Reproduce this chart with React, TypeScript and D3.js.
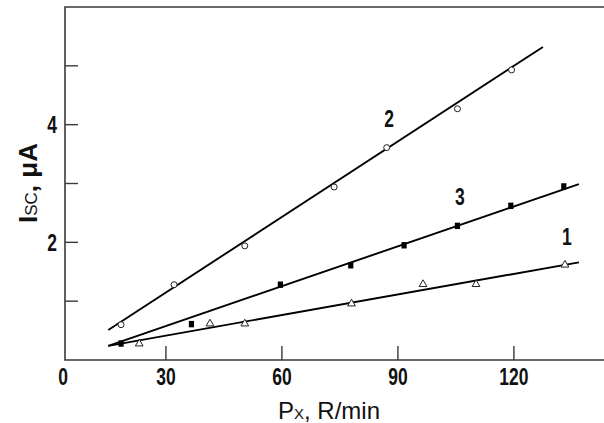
import React from "react";
import * as d3 from "d3";

// Data
const xTicks = [30, 60, 90, 120];
const xTickLabels = ["30", "60", "90", "120"];
const yTicks = [1, 2, 3, 4, 5];
const yTickLabels = ["", "2", "", "4", ""];

const series1X = [23.1, 41.4, 50.4, 78.0, 96.5, 110.2, 133.2];
const series1Y = [0.26, 0.6, 0.6, 0.94, 1.27, 1.27, 1.6];
const series2X = [18.4, 32.1, 50.4, 73.5, 87.1, 105.4, 119.4];
const series2Y = [0.6, 1.28, 1.94, 2.94, 3.61, 4.27, 4.93];
const series3X = [18.4, 36.6, 59.6, 77.8, 91.6, 105.4, 119.2, 132.9];
const series3Y = [0.28, 0.61, 1.28, 1.61, 1.95, 2.28, 2.62, 2.95];

const fit1X = [15.1, 136.8];
const fit1Y = [0.24, 1.66];
const fit2X = [15.1, 127.5];
const fit2Y = [0.51, 5.32];
const fit3X = [15.1, 136.8];
const fit3Y = [0.24, 2.99];

const curveLabels = ["2", "3", "1"];
const curveLabelX = [87.7, 106.0, 133.7];
const curveLabelY = [4.1, 2.78, 2.1];

const W = 604;
const H = 423;
const left = 65;
const top = 7;
const bottom = 360;

const boldFont = "'Liberation Sans', Arial, sans-serif";

function NarrowText(props: { x: number; y: number; anchor: string; children: string; dy?: string }) {
  return (
    <text
      transform={`translate(${props.x},${props.y}) scale(0.76,1)`}
      dy={props.dy}
      textAnchor={props.anchor}
      fontFamily={boldFont}
      fontWeight="bold"
      fontSize={23}
      fill="#111"
    >
      {props.children}
    </text>
  );
}

export default function App() {
  const x = d3.scaleLinear().domain([3.9, 143.3]).range([left, W]);
  const y = d3.scaleLinear().domain([0, 6]).range([bottom, top]);
  const line = d3
    .line<[number, number]>()
    .x((d) => x(d[0]))
    .y((d) => y(d[1]));

  const zip = (a: number[], b: number[]) => a.map((v, i) => [v, b[i]] as [number, number]);

  const axisColor = "#3a3a3a";
  const tri = d3.symbol().type(d3.symbolTriangle).size(26)();

  return (
    <svg
      width={W}
      height={H}
      style={{ position: "absolute", left: 0, top: 0, background: "#fff" }}
    >
      {/* frame */}
      <path
        d={`M${W},${top}H${left}V${bottom}H${W}`}
        fill="none"
        stroke={axisColor}
        strokeWidth={1.6}
      />
      {/* y ticks */}
      {yTicks.map((t, i) => (
        <g key={"yt" + t}>
          <line x1={left} x2={left + 13} y1={y(t)} y2={y(t)} stroke={axisColor} strokeWidth={1.4} />
          {yTickLabels[i] && (
            <NarrowText x={57} y={y(t)} dy="0.36em" anchor="end">
              {yTickLabels[i]}
            </NarrowText>
          )}
        </g>
      ))}
      {/* x ticks */}
      {xTicks.map((t, i) => (
        <g key={"xt" + t}>
          <line x1={x(t)} x2={x(t)} y1={bottom} y2={bottom - 14} stroke={axisColor} strokeWidth={1.4} />
          <NarrowText x={x(t)} y={385} anchor="middle">
            {xTickLabels[i]}
          </NarrowText>
        </g>
      ))}
      <NarrowText x={63} y={385} anchor="middle">
        0
      </NarrowText>

      {/* axis titles */}
      <text
        x={329}
        y={419}
        textAnchor="middle"
        fontFamily={boldFont}
        fontSize={24}
        fill="#111"
      >
        P
        <tspan fontSize={15}>X</tspan>
        <tspan>, R/min</tspan>
      </text>
      <text
        transform={`translate(37,183) rotate(-90)`}
        textAnchor="middle"
        fontFamily={boldFont}
        fontSize={26}
        fontWeight="bold"
        fill="#111"
      >
        I
        <tspan fontSize={17} fontWeight="normal">SC</tspan>
        <tspan>, μA</tspan>
      </text>

      {/* fit lines */}
      {[
        zip(fit1X, fit1Y),
        zip(fit2X, fit2Y),
        zip(fit3X, fit3Y),
      ].map((d, i) => (
        <path key={"fit" + i} d={line(d) || ""} fill="none" stroke="#000" strokeWidth={1.9} />
      ))}

      {/* markers series 1: open triangles */}
      {zip(series1X, series1Y).map((d, i) => (
        <path
          key={"s1" + i}
          d={tri || ""}
          transform={`translate(${x(d[0])},${y(d[1]) - 1})`}
          fill="#fff"
          stroke="#222"
          strokeWidth={1}
        />
      ))}
      {/* series 2: open circles */}
      {zip(series2X, series2Y).map((d, i) => (
        <circle
          key={"s2" + i}
          cx={x(d[0])}
          cy={y(d[1])}
          r={3}
          fill="#fff"
          stroke="#222"
          strokeWidth={1}
        />
      ))}
      {/* series 3: filled squares */}
      {zip(series3X, series3Y).map((d, i) => (
        <rect
          key={"s3" + i}
          x={x(d[0]) - 2.6}
          y={y(d[1]) - 3.2}
          width={5.2}
          height={6.4}
          fill="#000"
        />
      ))}

      {/* curve labels */}
      {curveLabels.map((l, i) => (
        <NarrowText key={"cl" + i} x={x(curveLabelX[i])} y={y(curveLabelY[i])} dy="0.36em" anchor="middle">
          {l}
        </NarrowText>
      ))}
    </svg>
  );
}
